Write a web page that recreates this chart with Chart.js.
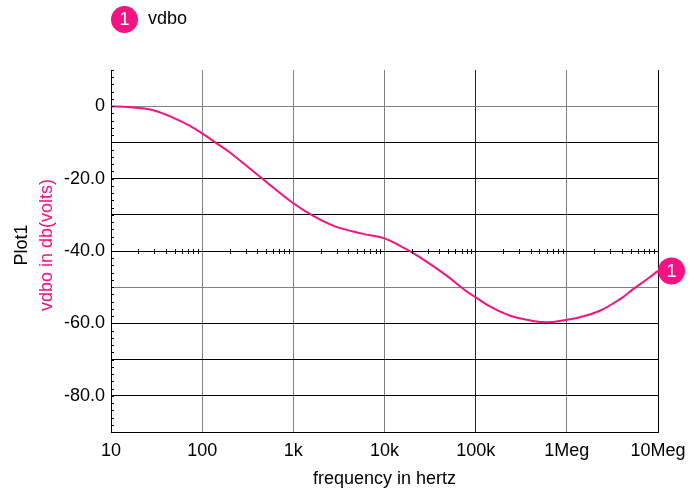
<!DOCTYPE html>
<html>
<head>
<meta charset="utf-8">
<script src="https://cdn.jsdelivr.net/npm/chart.js@4/dist/chart.umd.min.js"></script>
<style>
  body { margin: 0; background: #fff; }
  #wrap { width: 694px; height: 490px; position: relative; }
</style>
</head>
<body>
<div id="wrap"><canvas id="plot1"></canvas></div>
<script>
// frequency (Hz) and vdbo (dB)
const freqs = [10, 16, 27, 44, 74, 100, 157, 200, 431, 1000, 1730, 2870, 5670, 10000, 14800, 20000, 30000, 48000, 78000, 100000, 150000, 240000, 400000, 600000, 1000000, 1390000, 2300000, 3830000, 5300000, 7570000, 10000000];
const vdbo = [0, -0.3, -0.9, -2.75, -5.5, -7.5, -10.9, -12.7, -19.5, -26.8, -30.6, -33.2, -35.2, -36.5, -38.6, -40.4, -43.2, -46.8, -51, -52.8, -55.6, -57.9, -59.2, -59.7, -59, -58.3, -56.5, -53.3, -50.6, -47.8, -45.5];

const xTickValues = [10, 100, 1000, 10000, 100000, 1000000, 10000000];
const xTickNames = ['10', '100', '1k', '10k', '100k', '1Meg', '10Meg'];

const pink = 'rgb(245, 18, 130)';
const font = 'Liberation Sans, Arial, sans-serif';

const points = freqs.map((f, i) => ({ x: f, y: vdbo[i] }));

// extra drawing: minor ticks, right frame, titles, legend and end marker
const extras = {
    id: 'extras',
    afterDraw(chart) {
        const c = chart.ctx;
        const a = chart.chartArea;
        const xs = chart.scales.x, ys = chart.scales.y;
        c.save();
        c.strokeStyle = '#000';
        c.lineWidth = 1;
        // right frame line
        c.beginPath();
        c.moveTo(Math.round(a.right) + 0.5, a.top);
        c.lineTo(Math.round(a.right) + 0.5, a.bottom);
        c.stroke();
        // minor ticks on left axis
        for (let v = -90; v <= 10; v += 2) {
            const y = Math.round(ys.getPixelForValue(v)) + 0.5;
            c.beginPath();
            c.moveTo(a.left, y);
            c.lineTo(a.left + 3, y);
            c.stroke();
        }
        // log minor ticks on the -40 line
        const y40 = Math.round(ys.getPixelForValue(-40));
        for (let d = 10; d < 1e7; d *= 10) {
            for (let m = 2; m <= 9; m++) {
                const x = Math.round(xs.getPixelForValue(d * m)) + 0.5;
                c.beginPath();
                c.moveTo(x, y40 - 2);
                c.lineTo(x, y40 + 3);
                c.stroke();
            }
        }
        // y axis titles
        const midY = (a.top + a.bottom) / 2;
        c.font = '18px ' + font;
        c.textAlign = 'center';
        c.textBaseline = 'middle';
        c.translate(22, midY - 6);
        c.rotate(-Math.PI / 2);
        c.fillStyle = '#000';
        c.fillText('Plot1', 0, 0);
        c.fillStyle = pink;
        c.fillText('vdbo in db(volts)', 0, 25);
        c.restore();

        c.save();
        // legend
        c.fillStyle = pink;
        c.beginPath();
        c.arc(124.5, 19.5, 13.5, 0, Math.PI * 2);
        c.fill();
        c.fillStyle = '#fff';
        c.font = '18px ' + font;
        c.textAlign = 'center';
        c.textBaseline = 'middle';
        c.fillText('1', 124.5, 20.5);
        c.fillStyle = '#000';
        c.textAlign = 'left';
        c.fillText('vdbo', 148, 19);
        // end-of-trace marker
        const meta = chart.getDatasetMeta(0);
        const last = meta.data[meta.data.length - 1];
        c.fillStyle = pink;
        c.beginPath();
        c.arc(last.x + 13.5, last.y, 13.5, 0, Math.PI * 2);
        c.fill();
        c.fillStyle = '#fff';
        c.textAlign = 'center';
        c.fillText('1', last.x + 13.5, last.y + 1);
        c.restore();
    }
};

const config = {
    type: 'line',
    data: {
        datasets: [{
            label: 'vdbo',
            data: points,
            borderColor: pink,
            borderWidth: 2,
            pointRadius: 0,
            tension: 0.4,
            fill: false,
        }],
    },
    options: {
        responsive: true,
        maintainAspectRatio: false,
        animation: false,
        layout: { padding: { top: 70, right: 36, left: 0, bottom: 0 } },
        plugins: {
            legend: { display: false },
            title: { display: false },
            tooltip: { enabled: false },
        },
        scales: {
            x: {
                type: 'logarithmic',
                min: 10,
                max: 10000000,
                afterBuildTicks: (scale) => {
                    scale.ticks = xTickValues.map(v => ({ value: v }));
                },
                afterFit: (scale) => { scale.height = 58; },
                grid: {
                    drawTicks: false,
                    color: (ctx) => ctx.tick && ctx.tick.value === 100000 ? '#222' : '#808080',
                },
                border: { color: '#000', width: 1 },
                ticks: {
                    autoSkip: false,
                    maxRotation: 0,
                    padding: 8,
                    color: '#000',
                    font: { family: font, size: 18 },
                    callback: (v) => {
                        const i = xTickValues.indexOf(v);
                        return i >= 0 ? xTickNames[i] : '';
                    },
                },
                title: {
                    display: true,
                    text: 'frequency in hertz',
                    color: '#000',
                    font: { family: font, size: 18 },
                    padding: { top: 0, bottom: 0 },
                },
            },
            y: {
                min: -90,
                max: 10,
                afterFit: (scale) => { scale.width = 111; },
                grid: {
                    drawTicks: false,
                    color: (ctx) => {
                        const v = ctx.tick ? ctx.tick.value : 0;
                        if (v === 10) return 'rgba(0,0,0,0)';
                        if (v === -50 || v === 0) return '#808080';
                        return '#000';
                    },
                },
                border: { color: '#000', width: 1 },
                ticks: {
                    stepSize: 10,
                    padding: 6,
                    color: '#000',
                    font: { family: font, size: 18 },
                    callback: (v) => {
                        if (v > 0 || v <= -90 || v % 20 !== 0) return '';
                        return v === 0 ? '0' : v.toFixed(1);
                    },
                },
            },
        },
    },
    plugins: [extras],
};

var ctx = document.getElementById('plot1').getContext('2d');
var plot1 = new Chart(ctx, config);
</script>
</body>
</html>
